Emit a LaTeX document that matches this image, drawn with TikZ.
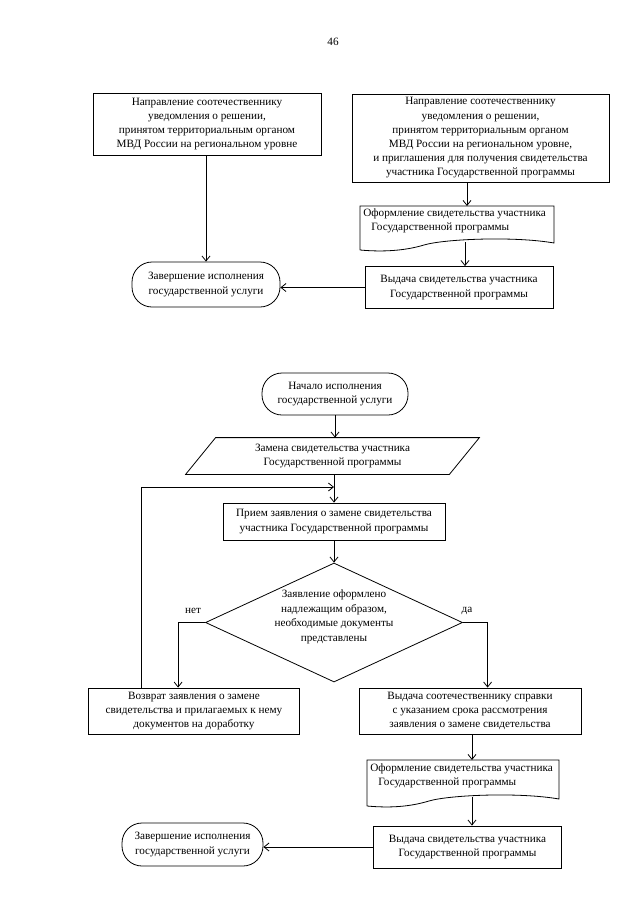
\documentclass[tikz,border=0pt]{standalone}
\usepackage{fontspec}
\setmainfont{Liberation Serif}
\usetikzlibrary{arrows.meta,shapes.geometric,calc}
\begin{document}
\begin{tikzpicture}[x=1pt,y=-1pt,
  font=\fontsize{11.2}{14.2}\selectfont,
  line width=0.8pt,
  arr/.style={-{Straight Barb[length=5pt,width=8pt]}},
  box/.style={draw,rectangle,align=center,inner sep=0pt},
  term/.style={draw,rectangle,rounded corners=20pt,align=center,inner sep=0pt},
  txt/.style={align=center,inner sep=0pt},
  docu/.style={align=left,inner sep=0pt,anchor=north west}
]
\useasboundingbox[fill=white] (0,0) rectangle (640,905);

\node[txt] (pn) at (333,42) {46};

% ---------- upper part ----------
\node[box,minimum width=228,minimum height=62] (a) at (207,124)
 {Направление соотечественнику\\уведомления о решении,\\принятом территориальным органом\\МВД России на региональном уровне};
\node[box,minimum width=257,minimum height=88] (b) at (480.5,138)
 {Направление соотечественнику\\уведомления о решении,\\принятом территориальным органом\\МВД России на региональном уровне,\\и приглашения для получения свидетельства\\участника Государственной программы};

% document shape C
\node[docu] (c) at (363,208) {Оформление свидетельства участника\\\hspace{8pt}Государственной программы};
\draw (360,250) -- (360,206) -- (554,206) -- (554,243)
  .. controls (514,236) and (444,239) .. (424,245)
  .. controls (404,251) and (382,252) .. (360,250);
\coordinate (ctop) at (467,206);
\coordinate (cbot) at (465,242);

\node[box,minimum width=188,minimum height=42] (d) at (459,287.5)
 {Выдача свидетельства участника\\Государственной программы};
\node[term,minimum width=148,minimum height=45] (e) at (206,284.5)
 {Завершение исполнения\\государственной услуги};

\draw[arr] (a.south -| e.north) -- (e.north);
\draw[arr] (b.south -| ctop) -- (ctop);
\draw[arr] (cbot) -- (cbot |- d.north);
\draw[arr] (d.west) -- (d.west -| e.east);

% ---------- lower part ----------
\node[term,minimum width=146,minimum height=42] (f) at (335,394)
 {Начало исполнения\\государственной услуги};

\node[txt,minimum width=263,minimum height=36] (g) at (332.5,456)
 {Замена свидетельства участника\\Государственной программы};
\draw ($(g.north west)+(15,0)$) -- ($(g.north east)+(15,0)$)
   -- ($(g.south east)+(-15,0)$) -- ($(g.south west)+(-15,0)$) -- cycle;

\node[box,minimum width=222,minimum height=37] (h) at (334,521.5)
 {Прием заявления о замене свидетельства\\участника Государственной программы};

\node[draw,diamond,inner sep=0pt,minimum width=257,minimum height=119] (i) at (334,622.5) {};
\node[txt,font=\fontsize{11.2}{14.5}\selectfont] (itext) at (334,617)
 {Заявление оформлено\\надлежащим образом,\\необходимые документы\\представлены};
\node[txt] (no) at (193,611) {нет};
\node[txt] (yes) at (467,611) {да};

\node[box,minimum width=211,minimum height=46] (j) at (194,711)
 {Возврат заявления о замене\\свидетельства и прилагаемых к нему\\документов на доработку};
\node[box,minimum width=222,minimum height=46] (k) at (470,711)
 {Выдача соотечественнику справки\\с указанием срока рассмотрения\\заявления о замене свидетельства};

\node[docu] (l) at (370,763) {Оформление свидетельства участника\\\hspace{8pt}Государственной программы};
\draw (367,806) -- (367,760) -- (559,760) -- (559,799)
  .. controls (519,792) and (449,795) .. (429,801)
  .. controls (409,807) and (389,808) .. (367,806);
\coordinate (ltop) at (472,760);
\coordinate (lbot) at (472,797);

\node[box,minimum width=188,minimum height=42] (m) at (467.5,847)
 {Выдача свидетельства участника\\Государственной программы};
\node[term,minimum width=141,minimum height=43] (n) at (192.5,844.5)
 {Завершение исполнения\\государственной услуги};

\coordinate (loopx) at (141,487);
\draw[arr] (f.south) -- (f.south |- g.north);
\draw[arr] (g.south -| h.north) -- (h.north);
\draw[arr] (h.south) -- (i.north);
\draw[arr] (i.west) -| ($(j.north west)+(90,0)$);
\draw[arr] (i.east) -| ($(k.north west)+(129,0)$);
\draw[arr] (j.north -| loopx) -- (loopx) -- (loopx -| h.north);
\draw[arr] (k.south -| ltop) -- (ltop);
\draw[arr] (lbot) -- (lbot |- m.north);
\draw[arr] (m.west) -- (m.west -| n.east);
\end{tikzpicture}
\end{document}
